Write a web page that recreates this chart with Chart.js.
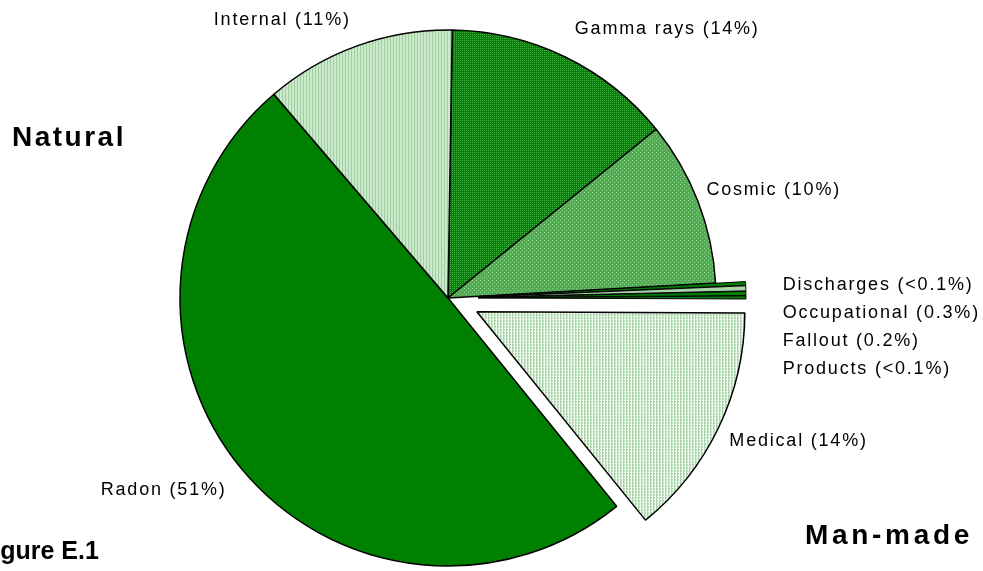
<!DOCTYPE html>
<html>
<head>
<meta charset="utf-8">
<script src="https://cdn.jsdelivr.net/npm/chart.js@4/dist/chart.umd.min.js"></script>
<style>
  html, body { margin: 0; padding: 0; background: #ffffff; }
  #wrap { position: relative; width: 983px; height: 571px; overflow: hidden; }
  canvas { position: absolute; left: 0; top: 0; }
  .note { position: absolute; font-family: "Liberation Sans", Arial, sans-serif; font-weight: bold; color: #000; white-space: nowrap; line-height: 1; }
</style>
</head>
<body>
<div id="wrap">
  <canvas id="c" width="983" height="571"></canvas>
  <div class="note" style="left:12px; top:123px; font-size:28px; letter-spacing:2.5px;">Natural</div>
  <div class="note" style="left:805px; top:521px; font-size:28px; letter-spacing:3.7px;">Man-made</div>
  <div class="note" style="left:-22px; top:538px; font-size:25px;">Figure E.1</div>
</div>
<script>
// ---- data ----
const categories = ["Gamma rays", "Cosmic", "Discharges", "Occupational", "Fallout", "Products", "Medical", "Radon", "Internal"];
const shareLabels = ["14%", "10%", "<0.1%", "0.3%", "0.2%", "<0.1%", "14%", "51%", "11%"];
// slice sizes as drawn in the picture (percent of the circle)
const shareValues = [13.9, 9.95, 0.22, 0.3, 0.25, 0.18, 14.1, 49.55, 11.5];
const smallGroup = ["Discharges", "Occupational", "Fallout", "Products"];

// ---- styles ----
function makePattern(size, base, dot, cells) {
  const cv = document.createElement('canvas');
  cv.width = size; cv.height = size;
  const g = cv.getContext('2d');
  g.fillStyle = base; g.fillRect(0, 0, size, size);
  g.fillStyle = dot;
  cells.forEach(([x, y]) => g.fillRect(x, y, 1, 1));
  return g.createPattern(cv, 'repeat');
}
const patGamma = makePattern(4, '#008000', '#4fb04f', [[0,0],[2,2],[2,0],[0,2]]);
const patCosmic = makePattern(4, '#52ad52', '#8fcf8f', [[0,0],[2,2]]);
const patInternal = makePattern(3, '#cde9cd', '#9ccf9c', [[0,0],[0,1],[0,2]]);
const patMedical = makePattern(3, '#ffffff', '#a8d6a8', [[0,0],[1,0],[0,1],[1,1],[0,2]]);
const fills = [patGamma, patCosmic, '#008000', '#a9d4a9', '#008000', '#008000', patMedical, '#008000', patInternal];
const explode = [0, 0, 30, 30, 30, 30, 32, 0, 0];
const borders = [1.5, 1.5, 1, 1, 1, 1, 1.5, 1.5, 1.5];
const labelGap = { "Gamma rays": 22, "Cosmic": 9, "Medical": 12, "Radon": 20, "Internal": 19 };

// pull selected slices out from the centre along their mid angle
const explodePlugin = {
  id: 'explodeSlices',
  beforeDatasetsDraw(chart) {
    chart.getDatasetMeta(0).data.forEach((arc, i) => {
      const d = explode[i];
      if (!d || arc._exploded) return;
      const orig = arc.draw;
      arc.draw = function (ctx, ...rest) {
        const mid = (this.startAngle + this.endAngle) / 2;
        ctx.save();
        ctx.translate(Math.cos(mid) * d, Math.sin(mid) * d);
        orig.call(this, ctx, ...rest);
        ctx.restore();
      };
      arc._exploded = true;
    });
  }
};

const labelPlugin = {
  id: 'sliceLabels',
  afterDatasetsDraw(chart) {
    const ctx = chart.ctx;
    const arcs = chart.getDatasetMeta(0).data;
    ctx.save();
    ctx.font = '18px "Liberation Sans", Arial, sans-serif';
    ctx.fillStyle = '#000';
    ctx.textBaseline = 'middle';
    ctx.letterSpacing = '1.8px';
    const half = 8;
    let stack = null;
    arcs.forEach((arc, i) => {
      const name = categories[i];
      const text = name + ' (' + shareLabels[i] + ')';
      const p = arc.getProps(['x', 'y', 'startAngle', 'endAngle', 'outerRadius']);
      const mid = (p.startAngle + p.endAngle) / 2;
      const disp = explode[i] || 0;
      const cx = p.x + Math.cos(mid) * disp;
      const cy = p.y + Math.sin(mid) * disp;
      if (smallGroup.includes(name)) {
        if (!stack) {
          stack = { x: cx + Math.cos(mid) * p.outerRadius + 37, y: cy + Math.sin(mid) * p.outerRadius + 2, n: 0 };
        }
        ctx.textAlign = 'left';
        ctx.fillText(text, stack.x, stack.y + stack.n * 27.7);
        stack.n++;
        return;
      }
      const rr = p.outerRadius + labelGap[name];
      const lx = cx + Math.cos(mid) * rr;
      const ly = cy + Math.sin(mid) * rr;
      ctx.textAlign = Math.cos(mid) >= 0 ? 'left' : 'right';
      ctx.fillText(text, lx, ly + (Math.sin(mid) < 0 ? -half : half));
    });
    ctx.restore();
  }
};

new Chart(document.getElementById('c'), {
  type: 'pie',
  data: {
    labels: categories,
    datasets: [{
      data: shareValues,
      backgroundColor: fills,
      borderColor: '#000000',
      borderWidth: borders
    }]
  },
  options: {
    responsive: false,
    animation: false,
    rotation: 0.9,
    radius: 268,
    layout: { padding: { left: 0, right: 87, top: 25, bottom: 0 } },
    plugins: { legend: { display: false }, tooltip: { enabled: false } }
  },
  plugins: [explodePlugin, labelPlugin]
});
</script>
</body>
</html>
